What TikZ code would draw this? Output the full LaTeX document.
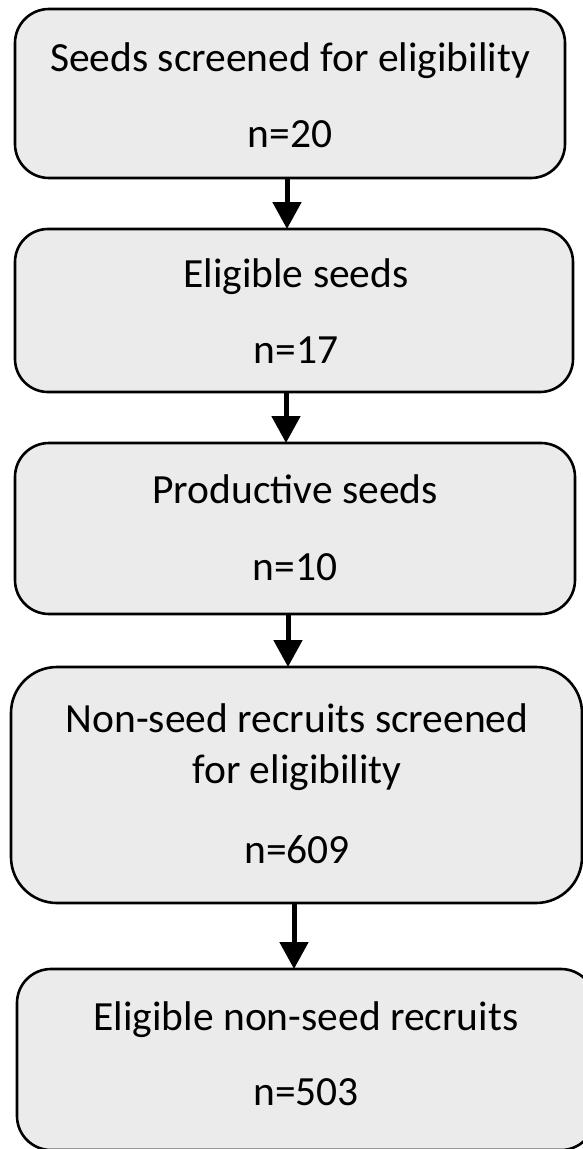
\documentclass[tikz,border=0pt]{standalone}
\usepackage{fontspec}
\setmainfont{Carlito}
\usetikzlibrary{arrows.meta}
\definecolor{boxfill}{RGB}{235,235,235}
\begin{document}
\begin{tikzpicture}[x=1pt,y=-1pt,
  box/.style={draw=black, line width=2.6pt, fill=boxfill, rounded corners=#1, inner sep=0pt, outer sep=0pt},
  lbl/.style={anchor=base, font=\fontsize{41.5}{44}\selectfont, inner sep=0pt, outer sep=0pt},
  arr/.style={line width=5pt, -{Triangle[width=28pt,length=27pt]}}]
\useasboundingbox (0,0) rectangle (583,1149);
\fill[white] (0,0) rectangle (583,1149);
% boxes
\node[box=34pt, minimum width=550pt, minimum height=169pt] (b1) at (290,93.5) {};
\node[box=33pt, minimum width=558pt, minimum height=163pt] (b2) at (294,310.5) {};
\node[box=34pt, minimum width=560pt, minimum height=171pt] (b3) at (295,528.5) {};
\node[box=46pt, minimum width=571pt, minimum height=236pt] (b4) at (296.5,785) {};
\node[box=34pt, minimum width=578pt, minimum height=181pt] (b5) at (306,1059.5) {};
% texts
\node[lbl] (t1a) at (290,71) {Seeds screened for eligibility};
\node[lbl] (t1b) at (290,147) {n=20};
\node[lbl] (t2a) at (296,287) {Eligible seeds};
\node[lbl] (t2b) at (296,363) {n=17};
\node[lbl] (t3a) at (295,503) {Productive seeds};
\node[lbl] (t3b) at (295,580) {n=10};
\node[lbl] (t4a) at (297,732) {Non-seed recruits screened};
\node[lbl] (t4b) at (297,783) {for eligibility};
\node[lbl] (t4c) at (297,863) {n=609};
\node[lbl] (t5a) at (306,1030) {Eligible non-seed recruits};
\node[lbl] (t5b) at (306,1105) {n=503};
% arrows
\draw[arr] (b1.south -| 287,0) -- (b2.north -| 287,0);
\draw[arr] (b2.south -| 286,0) -- (b3.north -| 286,0);
\draw[arr] (b3.south -| 288,0) -- (b4.north -| 288,0);
\draw[arr] (b4.south -| 294,0) -- (b5.north -| 294,0);
\end{tikzpicture}
\end{document}
